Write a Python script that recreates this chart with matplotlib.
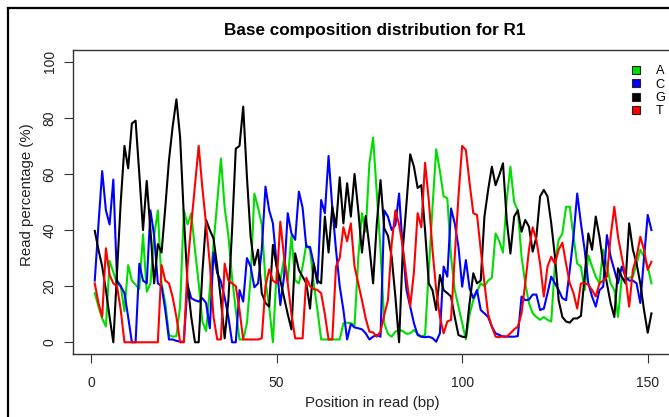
import matplotlib
matplotlib.use("Agg")
import matplotlib.pyplot as plt
from matplotlib.lines import Line2D

plt.rcParams['font.family'] = ['Liberation Sans', 'DejaVu Sans']

positions = list(range(1, 152))

pct_A = [17.5, 12.7, 8.5, 5.6, 29, 25, 21, 20, 11, 27.5,
         22, 20.5, 19, 38.5, 18, 21, 38, 47, 21, 14,
         2.6, 2, 2.2, 13, 47, 42, 46, 33, 21, 7.4,
         4, 19, 35, 50, 65.5, 48, 38, 23, 11.5, 1,
         1, 6.8, 23, 53, 48, 42, 22, 12.7, 0, 25,
         22, 30, 22, 38, 22, 21, 27, 35, 33, 21,
         11.5, 1, 1, 1, 1, 1, 1, 6.8, 7, 6.8,
         6, 30, 46, 39.4, 63.8, 73, 53, 33, 6.8, 3,
         2, 3.8, 4.4, 4, 3, 3.2, 4.4, 3, 2, 2.6,
         25, 48, 68.8, 61, 52, 51.3, 30.5, 18.6, 12.7, 6.8,
         1, 10, 15, 18, 21, 20, 22, 23, 38.8, 36,
         32, 50.7, 62.6, 50, 47, 30.5, 21, 14, 10.3, 9,
         8, 9, 8, 7.4, 28, 36.5, 38.8, 48.3, 48.3, 37.6,
         28, 27, 18.6, 31, 27, 23.4, 21, 33, 27, 21,
         18.6, 9, 23, 22, 23, 23.4, 28, 33, 30.5, 27,
         21]

pct_C = [22, 42, 61, 47, 42, 58, 22, 20, 17.5, 9,
         0, 0, 28, 22, 21, 47, 38, 21, 20, 11.5,
         1, 1, 0.5, 0.2, 0.2, 20.4, 15.7, 15, 14.5, 15.7,
         14, 5, 32, 24.6, 21.6, 16, 9, 0, 0, 18.6,
         14.5, 30, 27, 19.6, 21, 33, 55.5, 47, 42.4, 28,
         13.3, 23.4, 46, 38.8, 36.5, 53.7, 48, 34, 34, 28,
         21, 50.7, 46, 66.4, 48, 33, 20, 11.5, 1, 6.5,
         5.3, 5, 4.6, 3.2, 1, 2, 2.6, 2, 47, 44.8,
         40, 41.8, 53, 33, 18.6, 12.7, 6.8, 2.6, 2, 1.8,
         2, 1.5, 0.2, 3.2, 27, 23.4, 47.7, 42.4, 34, 19.8,
         29.3, 19.2, 15.7, 18.6, 11.5, 10.3, 9, 5.6, 3.2, 2.6,
         2, 2, 2, 2, 2.2, 16.3, 15, 15.2, 17, 17,
         11.5, 12, 17.5, 23.4, 21, 18.6, 15.7, 15, 25.8, 37.6,
         53, 42.4, 33, 21, 16.3, 12.7, 18.6, 19.8, 38.2, 30.5,
         25.8, 21, 27, 23.4, 22, 22, 21, 14, 30, 45.4,
         40]

pct_G = [39.7, 33, 27, 18.6, 9, 0, 25, 50, 70, 62,
         78, 79, 60, 40, 57.5, 40, 21, 35, 32, 48,
         65, 77, 86.6, 73, 45, 21, 9, 0, 0, 25,
         43.6, 40, 37, 27, 15, 1.4, 15, 40, 69, 70,
         84, 59, 37.6, 27.5, 33, 17.5, 14, 12.7, 34.7, 27,
         22, 16, 10, 4.6, 31.7, 25.8, 23.4, 21, 12, 28,
         22, 21, 44.8, 32, 48.3, 41, 58.8, 42.4, 56.7, 44.8,
         60, 47, 32, 45, 34, 21, 42.4, 57.8, 40.6, 38,
         30.5, 16.3, 0, 33, 49.5, 67, 62.6, 55, 56, 40,
         21, 18.6, 11.5, 24, 18.6, 17.5, 16.3, 9, 2.6, 2,
         1.8, 14, 24.6, 21, 22, 44.8, 54.3, 62.6, 56, 59.6,
         63.8, 43.6, 31.6, 44.8, 47, 39.4, 43.6, 41.2, 32.3, 37.6,
         52, 54.3, 52, 42.4, 30.5, 15, 9, 7.4, 7, 8.5,
         8.5, 9.4, 23.4, 38.8, 33, 44.8, 37.6, 28, 21, 14,
         9, 26.4, 23.4, 21, 42.4, 33, 28, 21, 11.5, 3.4,
         10.3]

pct_T = [21, 14, 9, 33.5, 24, 21, 20, 11.5, 0, 0,
         0, 0, 0, 0, 0, 0, 0, 0, 27.5, 22,
         21, 16, 9, 0, 0, 27, 42, 56, 70, 55,
         42, 28, 9, 1, 1, 28, 22, 21, 20, 11.5,
         1, 1, 1, 1, 1, 1.4, 20, 26, 22, 21,
         43, 30.5, 21, 10, 1.4, 1.4, 1.4, 23, 20, 19,
         18.6, 17.5, 10, 1, 1, 27, 30, 41, 36, 42.4,
         27, 21, 15, 8.5, 3.8, 3.5, 2, 3.8, 9.7, 15,
         35, 47, 42, 34, 23, 12.7, 25, 46, 41, 64,
         50.7, 33, 18.6, 9, 3.2, 7.4, 8, 30.5, 52, 70,
         68.5, 56.7, 46, 45.4, 33, 21, 10, 5.6, 2, 1.8,
         2.2, 2, 3.2, 4.6, 5.6, 10.3, 21, 33, 41, 36.5,
         28, 16.3, 27, 30.5, 28, 33, 35.5, 28, 21, 17.5,
         12, 21, 21, 20.5, 18.6, 16.3, 21, 22, 23.4, 37.6,
         48.3, 37.6, 30.5, 23.4, 12.7, 25.8, 30.5, 37.6, 33, 25.8,
         28.7]

bases = ['A', 'C', 'G', 'T']
series = [pct_A, pct_C, pct_G, pct_T]
colors = ['#00dd00', '#0000ff', '#000000', '#ff0000']

W, H = 669, 417
fig = plt.figure(figsize=(W / 100, H / 100), dpi=100)

left, right, top, bottom = 72.5, 673.7, 50.5, 353.5
ax = fig.add_axes([left / W, 1 - bottom / H, (right - left) / W, (bottom - top) / H])

for vals, col in zip(series, colors):
    ax.plot(positions, vals, color=col, lw=1.5, solid_joinstyle='round')

ax.set_xlim(-5, 157)
ax.set_ylim(-4, 104)
ax.set_xticks([0, 50, 100, 150])
ax.set_yticks([0, 20, 40, 60, 80, 100])
for s in ax.spines.values():
    s.set_color('#333333')
    s.set_linewidth(1.0)
ax.tick_params(axis='both', direction='out', length=6.5, width=0.8, color='#333333',
               labelsize=10, labelcolor='#222222')
ax.tick_params(axis='x', pad=10)
ax.tick_params(axis='y', pad=5)
for lab in ax.get_yticklabels():
    lab.set_rotation(90)
    lab.set_va('center')
    lab.set_ha('right')

fig.text(375 / W, 1 - 30 / H, 'Base composition distribution for R1', ha='center', va='center',
         fontsize=12.3, fontweight='bold')
fig.text(372 / W, 1 - 403 / H, 'Position in read (bp)', ha='center', va='center',
         fontsize=10.8, color='#222222')
fig.text(27 / W, 1 - 195 / H, 'Read percentage (%)', ha='center', va='center',
         rotation=90, fontsize=10.8, color='#222222')

handles = [Line2D([], [], linestyle='none', marker='s', markersize=6.4,
                  markerfacecolor=c, markeredgecolor='#222222', markeredgewidth=0.8)
           for c in colors]
leg = fig.legend(handles, bases, loc='upper left', bbox_to_anchor=(630 / W, 1 - 65.5 / H),
                 frameon=False, fontsize=9.2, handlelength=1.0, handletextpad=1.0,
                 labelspacing=0.1, borderpad=0, borderaxespad=0)

fig.add_artist(Line2D([8 / W, 1.0], [1 - 8 / H, 1 - 8 / H], transform=fig.transFigure,
                      color='black', lw=1.6))
fig.add_artist(Line2D([8 / W, 8 / W], [0.0, 1 - 8 / H], transform=fig.transFigure,
                      color='black', lw=1.6))

fig.savefig('out.png', dpi=100)
